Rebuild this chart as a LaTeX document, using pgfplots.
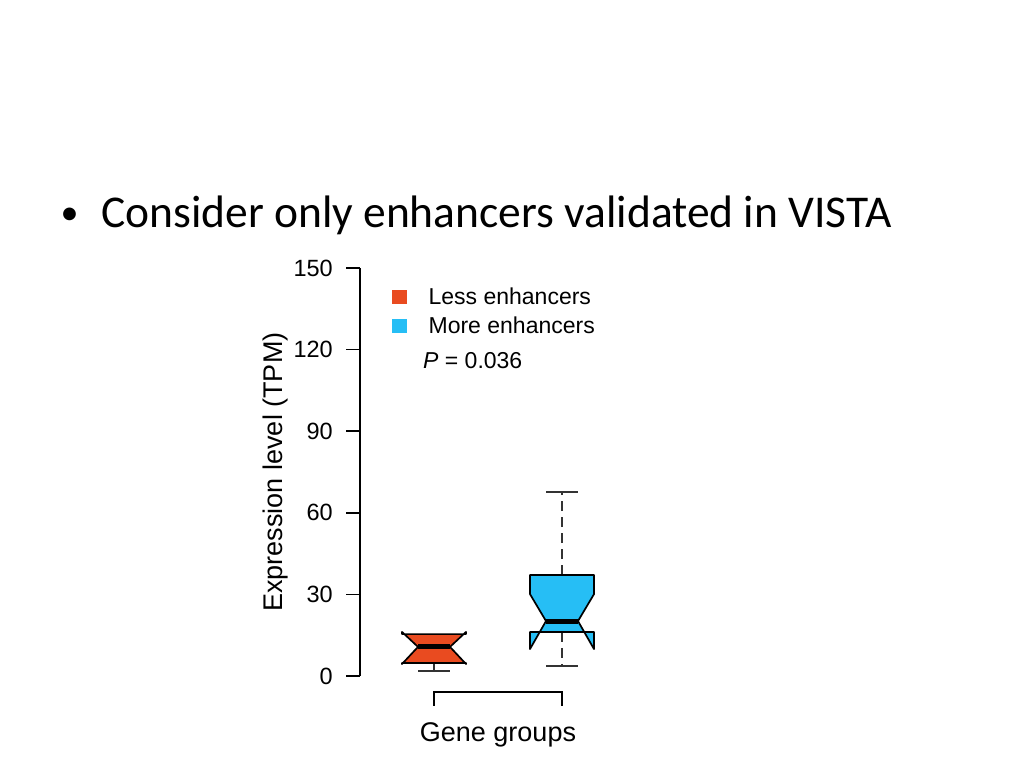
\documentclass[border=0pt]{standalone}
\usepackage{fontspec}
\setmainfont{Liberation Sans}
\newfontfamily\calibri{Carlito}
\usepackage{pgfplots}
\pgfplotsset{compat=1.18}
\definecolor{lessred}{HTML}{E94B20}
\definecolor{moreblue}{HTML}{26BEF5}
\begin{document}
\begin{tikzpicture}
\useasboundingbox (0,0) rectangle (1024pt,768pt);
\node[anchor=base west, inner sep=0, font=\calibri\fontsize{45.5}{54}\selectfont] at (101pt,540pt) {Consider only enhancers validated in VISTA};
\node[anchor=base, inner sep=0, font=\calibri\fontsize{36}{40}\selectfont] at (69.5pt,543pt) {•};
\begin{axis}[
  at={(360pt,92pt)}, anchor=south west,
  scale only axis, width=330pt, height=408pt,
  xmin=0.421875, xmax=3, ymin=0, ymax=150,
  axis y line=left, axis x line=none,
  axis line style={-, line width=1.5pt, black},
  ytick={0,30,60,90,120,150}, xtick=\empty,
  tick align=outside, major tick length=14pt,
  tick style={line width=1.5pt, black},
  /pgf/number format/assume math mode=true,
  yticklabel style={font=\fontsize{23.5}{23.5}\selectfont, inner sep=0pt, xshift=-13pt},
  ylabel={Expression level (TPM)},
  ylabel style={at={(axis description cs:-0.2182,0.5)}, anchor=south, inner sep=0pt, font=\fontsize{27}{27}\selectfont},
  clip=false,
  every axis plot/.append style={mark=none},
  legend style={at={(axis cs:0.672,143.5)}, anchor=north west, draw=none, fill=none,
    font=\fontsize{23}{23}\selectfont, inner sep=0pt, nodes={inner sep=2pt}, row sep=7pt,
    /tikz/every odd column/.append style={column sep=20pt}},
  legend cell align=left,
  legend image code/.code={\fill[#1] (0pt,-6.5pt) rectangle (14pt,6.5pt);},
  whisk/.style={black!80, line width=1.6pt},
]
\addlegendimage{lessred}
\addlegendentry{Less enhancers}
\addlegendimage{moreblue}
\addlegendentry{More enhancers}

% whiskers (less enhancers)
\addplot[whisk, forget plot] coordinates {(1,4.8) (1,1.8)};
\addplot[whisk, forget plot] coordinates {(0.875,1.8) (1.125,1.8)};
% whiskers (more enhancers)
\addplot[whisk, dash pattern=on 10pt off 6pt, forget plot] coordinates {(2,37.1) (2,67.6)};
\addplot[whisk, forget plot] coordinates {(1.875,67.6) (2.125,67.6)};
\addplot[whisk, dash pattern=on 10pt off 6pt, forget plot] coordinates {(2,16.2) (2,3.7)};
\addplot[whisk, forget plot] coordinates {(1.875,3.7) (2.125,3.7)};

% notched boxes
\addplot[fill=lessred, draw=black, line width=1.7pt, line join=round, forget plot] coordinates {
 (0.75,4.8) (0.75,4.4) (0.875,10.7) (0.75,16.2) (0.75,15.4)
 (1.25,15.4) (1.25,16.2) (1.125,10.7) (1.25,4.4) (1.25,4.8)} -- cycle;
\addplot[fill=moreblue, draw=black, line width=1.7pt, line join=round, forget plot] coordinates {
 (1.75,16.2) (1.75,9.9) (1.875,20.2) (1.75,30.1) (1.75,37.1)
 (2.25,37.1) (2.25,30.1) (2.125,20.2) (2.25,9.9) (2.25,16.2)} -- cycle;

% medians
\addplot[black, line width=5pt, forget plot] coordinates {(0.875,10.7) (1.125,10.7)};
\addplot[black, line width=5pt, forget plot] coordinates {(1.875,20.2) (2.125,20.2)};

% group axis bracket
\addplot[black, line width=1.5pt, forget plot] coordinates {(1,-11) (1,-5.85) (2,-5.85) (2,-11)};

\node[anchor=base west, inner sep=0, font=\fontsize{23}{23}\selectfont] at (axis cs:0.914,113.05) {\textit{P} = 0.036};
\node[anchor=base, inner sep=0, font=\fontsize{27}{27}\selectfont] at (axis cs:1.5,-24.15) {Gene groups};
\end{axis}
\end{tikzpicture}
\end{document}
